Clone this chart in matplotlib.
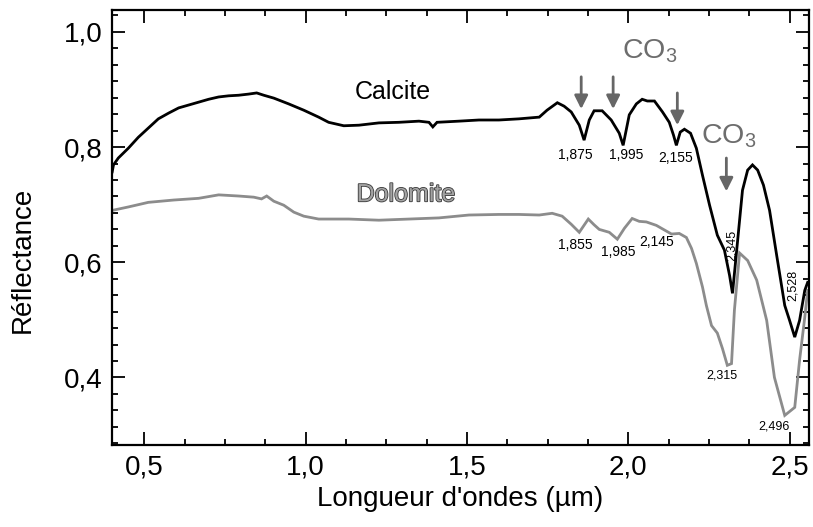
import matplotlib
matplotlib.use("Agg")
import matplotlib.pyplot as plt
import matplotlib.patheffects as pe
from matplotlib.ticker import MultipleLocator, FuncFormatter

plt.rcParams['font.family'] = ['Liberation Sans', 'DejaVu Sans']
plt.rcParams['mathtext.fontset'] = 'custom'
plt.rcParams['mathtext.rm'] = 'Liberation Sans'

# spectres (longueur d'onde en µm, réflectance)
calcite_x = [0.40, 0.404, 0.419, 0.450, 0.481, 0.512, 0.543, 0.575, 0.606, 0.637,
             0.668, 0.699, 0.730, 0.761, 0.792, 0.823, 0.848, 0.870, 0.901, 0.947,
             0.994, 1.040, 1.071, 1.118, 1.165, 1.227, 1.289, 1.351, 1.382, 1.394,
             1.407, 1.475, 1.537, 1.599, 1.661, 1.724, 1.748, 1.780, 1.801, 1.823,
             1.848, 1.863, 1.879, 1.894, 1.919, 1.947, 1.972, 1.984, 2.003, 2.025,
             2.043, 2.059, 2.081, 2.106, 2.127, 2.140, 2.149, 2.161, 2.174, 2.193,
             2.211, 2.230, 2.252, 2.276, 2.298, 2.314, 2.323, 2.339, 2.354, 2.370,
             2.385, 2.401, 2.419, 2.438, 2.460, 2.485, 2.500, 2.516, 2.531, 2.547,
             2.556]
calcite_y = [0.757, 0.769, 0.781, 0.798, 0.817, 0.833, 0.849, 0.859, 0.868, 0.873,
             0.878, 0.883, 0.887, 0.889, 0.890, 0.892, 0.894, 0.890, 0.885, 0.875,
             0.864, 0.852, 0.843, 0.837, 0.838, 0.842, 0.843, 0.845, 0.843, 0.835,
             0.843, 0.845, 0.847, 0.847, 0.849, 0.852, 0.864, 0.877, 0.871, 0.861,
             0.838, 0.812, 0.847, 0.863, 0.863, 0.847, 0.824, 0.803, 0.856, 0.875,
             0.883, 0.880, 0.880, 0.861, 0.843, 0.821, 0.803, 0.826, 0.831, 0.824,
             0.798, 0.751, 0.699, 0.647, 0.621, 0.577, 0.546, 0.638, 0.725, 0.760,
             0.769, 0.760, 0.734, 0.690, 0.612, 0.525, 0.499, 0.470, 0.499, 0.551,
             0.565]

dolomite_x = [0.40, 0.450, 0.512, 0.590, 0.668, 0.730, 0.792, 0.839, 0.863, 0.879,
              0.901, 0.932, 0.963, 0.994, 1.040, 1.134, 1.227, 1.320, 1.413, 1.506,
              1.599, 1.661, 1.724, 1.764, 1.795, 1.823, 1.848, 1.876, 1.894, 1.910,
              1.941, 1.966, 1.988, 2.012, 2.034, 2.056, 2.087, 2.112, 2.134, 2.158,
              2.180, 2.196, 2.211, 2.230, 2.242, 2.258, 2.276, 2.292, 2.307, 2.320,
              2.329, 2.345, 2.370, 2.398, 2.429, 2.453, 2.485, 2.516, 2.531, 2.547,
              2.556]
dolomite_y = [0.690, 0.696, 0.704, 0.708, 0.711, 0.717, 0.715, 0.713, 0.710, 0.715,
              0.706, 0.699, 0.687, 0.680, 0.675, 0.675, 0.673, 0.675, 0.677, 0.682,
              0.683, 0.683, 0.682, 0.685, 0.680, 0.666, 0.652, 0.675, 0.665, 0.657,
              0.652, 0.640, 0.659, 0.676, 0.671, 0.670, 0.664, 0.656, 0.649, 0.650,
              0.643, 0.624, 0.598, 0.557, 0.525, 0.490, 0.477, 0.450, 0.421, 0.424,
              0.517, 0.616, 0.603, 0.569, 0.499, 0.400, 0.334, 0.348, 0.430, 0.504,
              0.551]

# bandes d'absorption annotées
calcite_bands = ["1,875", "1,995", "2,155"]
calcite_band_pos = [(1.835, 0.786), (1.994, 0.786), (2.146, 0.781)]
dolomite_bands = ["1,855", "1,985", "2,145"]
dolomite_band_pos = [(1.835, 0.630), (1.969, 0.617), (2.087, 0.635)]
arrows_x = [1.854, 1.953, 2.152, 2.304]
arrows_top = [0.922, 0.922, 0.894, 0.781]
arrows_tip = [0.866, 0.866, 0.838, 0.723]
co3_pos = [(1.981, 0.955), (2.225, 0.807)]

fig = plt.figure(figsize=(8.13, 5.27), dpi=100)
ax = fig.add_axes([0.138, 0.156, 0.857, 0.825])

ax.plot(dolomite_x, dolomite_y, color="#8c8c8c", lw=2.0, solid_joinstyle="miter")
ax.plot(calcite_x, calcite_y, color="black", lw=2.0, solid_joinstyle="miter")

ax.set_xlim(0.40, 2.56)
ax.set_ylim(0.283, 1.038)

comma = FuncFormatter(lambda v, p: f"{v:.1f}".replace(".", ","))
ax.xaxis.set_major_locator(MultipleLocator(0.5))
ax.xaxis.set_minor_locator(MultipleLocator(0.125))
ax.yaxis.set_major_locator(MultipleLocator(0.2))
ax.yaxis.set_minor_locator(MultipleLocator(0.2 / 7))
ax.xaxis.set_major_formatter(comma)
ax.yaxis.set_major_formatter(comma)
ax.tick_params(which="both", direction="in", top=True, right=True, width=1.3,
               labelsize=20, pad=7)
ax.tick_params(which="major", length=9.5)
ax.tick_params(which="minor", length=4)
for s in ax.spines.values():
    s.set_linewidth(1.6)

ax.set_xlabel("Longueur d'ondes (µm)", fontsize=20, labelpad=4)
ax.set_ylabel("Réflectance", fontsize=20, labelpad=8)
ax.yaxis.set_label_coords(-0.11, 0.425)

ax.text(1.27, 0.896, "Calcite", fontsize=18, ha="center", va="center")
ax.text(1.31, 0.718, "Dolomite", fontsize=18, ha="center", va="center", color="#a3a3a3",
        path_effects=[pe.withStroke(linewidth=1.2, foreground="#3a3a3a")])

for xc, yc in co3_pos:
    ax.text(xc, yc, r"CO$_{\mathrm{3}}$", fontsize=20.5, color="#6d6d6d",
            ha="left", va="baseline")

for xa, yt, yb in zip(arrows_x, arrows_top, arrows_tip):
    ax.annotate("", xy=(xa, yb), xytext=(xa, yt),
                arrowprops=dict(arrowstyle="-|>", color="#666666", lw=2,
                                mutation_scale=20, shrinkA=0, shrinkB=0))

for lab, (xl, yl) in zip(calcite_bands + dolomite_bands, calcite_band_pos + dolomite_band_pos):
    ax.text(xl, yl, lab, fontsize=10, ha="center", va="center")

ax.text(2.320, 0.630, "2,345", fontsize=9, rotation=90, ha="center", va="center")
ax.text(2.509, 0.560, "2,528", fontsize=9, rotation=90, ha="center", va="center")
ax.text(2.289, 0.403, "2,315", fontsize=9, ha="center", va="center")
ax.text(2.452, 0.315, "2,496", fontsize=9, ha="center", va="center")

fig.savefig("out.png", dpi=100)
